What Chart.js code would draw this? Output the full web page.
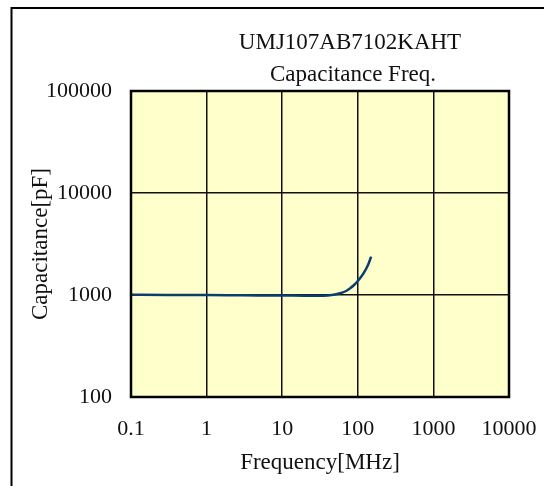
<!DOCTYPE html>
<html>
<head>
<meta charset="utf-8">
<script src="https://cdn.jsdelivr.net/npm/chart.js@4"></script>
<style>
  body { margin: 0; background: #fff; }
  canvas { display: block; }
</style>
</head>
<body>
<canvas id="capChart" width="544" height="486"></canvas>
<script>
// capacitance vs frequency
const freqMHz = [0.1, 0.3, 1, 3, 10, 20, 30, 40, 50, 60, 70, 80, 90, 100, 110, 120, 130, 140, 150];
const capPF = [1005, 1002, 998, 993, 988, 984, 983, 990, 1010, 1045, 1095, 1170, 1260, 1370, 1500, 1650, 1830, 2060, 2380];

const xTicks = [0.1, 1, 10, 100, 1000, 10000];
const yTicks = [100, 1000, 10000, 100000];
const titleLines = ['UMJ107AB7102KAHT', 'Capacitance Freq.'];

const serif = '"Liberation Serif", "Times New Roman", serif';

// white page, yellow plot area and the outer frame
const framePlugin = {
    id: 'frame',
    beforeDraw(chart) {
        const { ctx, chartArea: a } = chart;
        ctx.save();
        ctx.fillStyle = '#fff';
        ctx.fillRect(0, 0, chart.width, chart.height);
        ctx.fillStyle = '#ffffcc';
        ctx.fillRect(a.left, a.top, a.right - a.left, a.bottom - a.top);
        ctx.strokeStyle = '#000';
        ctx.lineWidth = 2;
        ctx.strokeRect(11.5, 8, 700, 700);
        ctx.restore();
    },
    afterDraw(chart) {
        const { ctx, chartArea: a } = chart;
        ctx.save();
        ctx.strokeStyle = '#000';
        ctx.lineWidth = 2.5;
        ctx.strokeRect(a.left, a.top, a.right - a.left, a.bottom - a.top);
        // two-line title
        ctx.fillStyle = '#111';
        ctx.font = '23px ' + serif;
        ctx.textAlign = 'center';
        ctx.textBaseline = 'alphabetic';
        ctx.fillText(titleLines[0], 350, 49);
        ctx.fillText(titleLines[1], 353, 81);
        ctx.restore();
    }
};

const ctx = document.getElementById('capChart').getContext('2d');
new Chart(ctx, {
    type: 'line',
    data: {
        datasets: [{
            data: freqMHz.map((f, i) => ({ x: f, y: capPF[i] })),
            borderColor: '#0b3d6e',
            borderWidth: 2.5,
            pointRadius: 0,
            fill: false,
            cubicInterpolationMode: 'monotone'
        }]
    },
    options: {
        responsive: false,
        animation: false,
        devicePixelRatio: 1,
        layout: { padding: { top: 91, right: 35, bottom: 0, left: 12 } },
        plugins: { legend: { display: false }, tooltip: { enabled: false }, title: { display: false } },
        scales: {
            x: {
                type: 'logarithmic',
                min: 0.1,
                max: 10000,
                afterBuildTicks: axis => { axis.ticks = xTicks.map(v => ({ value: v })); },
                afterFit: axis => {
                    axis.height = 89;
                    axis.paddingLeft = 0;
                    axis.paddingRight = 0;
                },
                ticks: {
                    color: '#111',
                    font: { family: serif, size: 22 },
                    padding: 19,
                    maxRotation: 0,
                    autoSkip: false,
                    callback: v => String(v)
                },
                grid: { color: '#111', lineWidth: 1.5, drawTicks: false },
                border: { display: false },
                title: {
                    display: true,
                    text: 'Frequency[MHz]',
                    color: '#111',
                    font: { family: serif, size: 23 },
                    padding: { top: 0, bottom: 9 }
                }
            },
            y: {
                type: 'logarithmic',
                min: 100,
                max: 100000,
                afterBuildTicks: axis => { axis.ticks = yTicks.map(v => ({ value: v })); },
                afterFit: axis => {
                    axis.width = 119;
                    axis.paddingTop = 0;
                    axis.paddingBottom = 0;
                },
                ticks: {
                    color: '#111',
                    font: { family: serif, size: 22 },
                    padding: 19,
                    autoSkip: false,
                    callback: v => String(v)
                },
                grid: { color: '#111', lineWidth: 1.5, drawTicks: false },
                border: { display: false },
                title: {
                    display: true,
                    text: 'Capacitance[pF]',
                    color: '#111',
                    font: { family: serif, size: 23 },
                    padding: { top: 15, bottom: 0 }
                }
            }
        }
    },
    plugins: [framePlugin]
});
</script>
</body>
</html>
